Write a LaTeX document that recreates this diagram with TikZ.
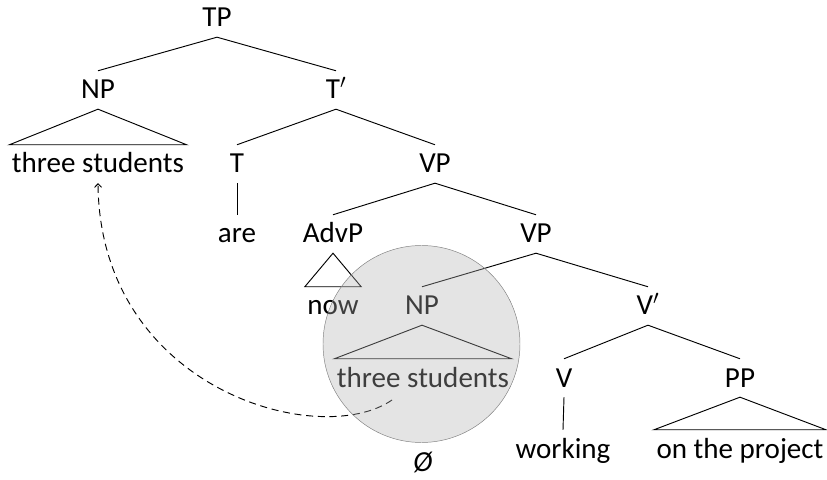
\documentclass[tikz,border=0pt]{standalone}
\usepackage{fontspec}
\setmainfont{Carlito}
\usetikzlibrary{arrows.meta}

\begin{document}
\begin{tikzpicture}[x=0.03cm,y=-0.03cm,
    word/.style={anchor=base,inner xsep=2pt,inner ysep=8.5pt,text height=15.4pt,text depth=0pt,
        font=\fontsize{24.8}{28}\selectfont}]
    \useasboundingbox (0,0) rectangle (827,480);

    % labels
    \node[word] (tp)    at (217,27)  {TP};
    \node[word] (np)    at (98,99)   {NP};
    \node[word] (tbar)  at (336,99)  {T$'$};
    \node[word] (lstud) at (98,173)  {three students};
    \node[word] (t)     at (237,173) {T};
    \node[word] (vp)    at (435,173) {VP};
    \node[word] (are)   at (237,243) {are};
    \node[word] (advp)  at (333,243) {AdvP};
    \node[word] (vpb)   at (536,243) {VP};
    \node[word] (now)   at (333,315) {now};
    \node[word] (npb)   at (422,315) {NP};
    \node[word] (vbar)  at (648,315) {V$'$};
    \node[word] (istud) at (423,387) {three students};
    \node[word] (v)     at (564,387) {V};
    \node[word] (pp)    at (740,387) {PP};
    \node[word] (work)  at (563,458) {working};
    \node[word] (proj)  at (740,458) {on the project};
    \node[word] (null)  at (423,471) {\textit{Ø}};

    % branches
    \begin{scope}[line width=0.8pt]
        \draw (tp.south) -- (np.north);
        \draw (tp.south) -- (tbar.north);
        \draw (tbar.south) -- (t.north);
        \draw (tbar.south) -- (vp.north);
        \draw (t.south) -- (are.north);
        \draw (vp.south) -- (advp.north);
        \draw (vp.south) -- (vpb.north);
        \draw (vpb.south) -- (npb.north);
        \draw (vpb.south) -- (vbar.north);
        \draw (vbar.south) -- (v.north);
        \draw (vbar.south) -- (pp.north);
        \draw (v.south) -- (work.north);

        % triangles
        \draw (np.south) -- (lstud.north west) -- (lstud.north east) -- cycle;
        \draw (advp.south) -- (now.north west) -- (now.north east) -- cycle;
        \draw (npb.south) -- (istud.north west) -- (istud.north east) -- cycle;
        \draw (pp.south) -- (proj.north west) -- (proj.north east) -- cycle;
    \end{scope}

    % trace
    \coordinate (trace) at (392,400);
    \draw[line width=0.8pt,dash pattern=on 6pt off 4pt,-{Straight Barb[length=3pt,width=6pt]}]
        (trace) .. controls (320,450) and (100,390) .. (lstud.south);

    \fill[gray!60,fill opacity=0.35] (421.5,344) circle (98.5);
    \draw[gray] (421.5,344) circle (98.5);
\end{tikzpicture}
\end{document}
